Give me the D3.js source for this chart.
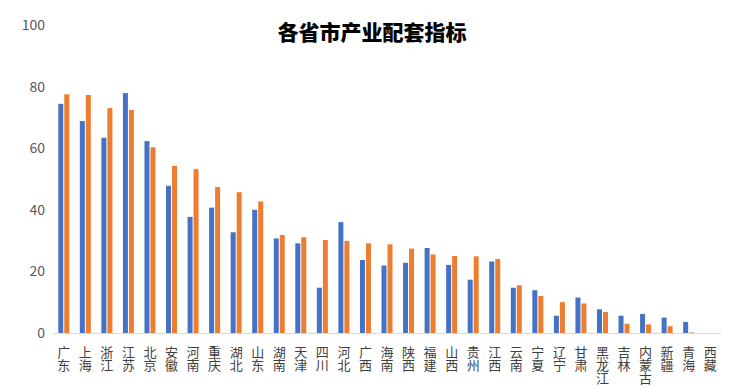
<!DOCTYPE html>
<html>
<head>
<meta charset="utf-8">
<script src="https://cdn.jsdelivr.net/npm/d3@7"></script>
<style>
  body { margin: 0; background: #fff; }
  svg { display: block; font-family: "Noto Sans CJK SC", "Noto Sans", sans-serif; }
</style>
</head>
<body>
<svg width="744" height="388"></svg>
<script>
var provinces = ["广东", "上海", "浙江", "江苏", "北京", "安徽", "河南", "重庆", "湖北", "山东",
  "湖南", "天津", "四川", "河北", "广西", "海南", "陕西", "福建", "山西", "贵州",
  "江西", "云南", "宁夏", "辽宁", "甘肃", "黑龙江", "吉林", "内蒙古", "新疆", "青海", "西藏"];
var seriesA = [74.4, 68.8, 63.4, 77.9, 62.3, 47.8, 37.7, 40.7, 32.7, 40.0,
  30.7, 29.1, 14.7, 36.0, 23.7, 21.9, 22.8, 27.6, 22.1, 17.3,
  23.2, 14.7, 13.9, 5.6, 11.5, 7.7, 5.6, 6.2, 5.0, 3.6, 0];
var seriesB = [77.5, 77.3, 73.0, 72.4, 60.3, 54.2, 53.2, 47.4, 45.7, 42.7,
  31.8, 31.1, 30.2, 29.9, 29.1, 28.8, 27.4, 25.5, 25.0, 24.9,
  24.0, 15.5, 12.0, 10.0, 9.6, 6.8, 3.0, 2.8, 2.2, 0.2, 0];
var yTicks = [0, 20, 40, 60, 80, 100];
var title = "各省市产业配套指标";

var svg = d3.select("svg");
var colors = ["#4472C4", "#ED7D31"];
var series = [seriesA, seriesB];

var x = d3.scaleBand().domain(provinces).range([53, 721]).padding(0);
var bw = x.bandwidth();
var x1 = d3.scaleBand().domain([0, 1]).range([bw / 2 - 5.5, bw / 2 + 5.5]).paddingInner(1 / 6);
var y = d3.scaleLinear().domain([0, 100]).range([333, 25]);

// title
svg.append("text")
  .attr("x", 372).attr("y", 40)
  .attr("text-anchor", "middle")
  .attr("font-size", 21).attr("font-weight", 900)
  .attr("fill", "#000")
  .text(title);

// y axis labels only, no line
var yAxis = svg.append("g")
  .attr("transform", "translate(45,0)")
  .call(d3.axisLeft(y).tickValues(yTicks).tickSize(0).tickPadding(0));
yAxis.select(".domain").remove();
yAxis.selectAll("text")
  .attr("font-size", 14)
  .attr("fill", "#595959")
  .attr("font-family", "\"Noto Sans CJK SC\", sans-serif");

// bars
var groups = svg.append("g").selectAll("g")
  .data(provinces)
  .enter().append("g")
    .attr("transform", d => "translate(" + x(d) + ",0)");

groups.selectAll("rect")
  .data((d, i) => series.map((s, k) => ({k: k, v: s[i]})))
  .enter().append("rect")
    .attr("x", d => x1(d.k))
    .attr("width", x1.bandwidth())
    .attr("y", d => y(d.v))
    .attr("height", d => y(0) - y(d.v))
    .attr("fill", d => colors[d.k]);

// baseline
svg.append("line")
  .attr("x1", 53).attr("x2", 721)
  .attr("y1", y(0) + 0.5).attr("y2", y(0) + 0.5)
  .attr("stroke", "#d9d9d9").attr("stroke-width", 1);

// vertical category labels
groups.append("text")
  .attr("x", bw / 2)
  .attr("y", 346)
  .attr("writing-mode", "vertical-rl")
  .attr("text-anchor", "start")
  .attr("font-size", 13)
  .attr("fill", "#404040")
  .text(d => d);
</script>
</body>
</html>
